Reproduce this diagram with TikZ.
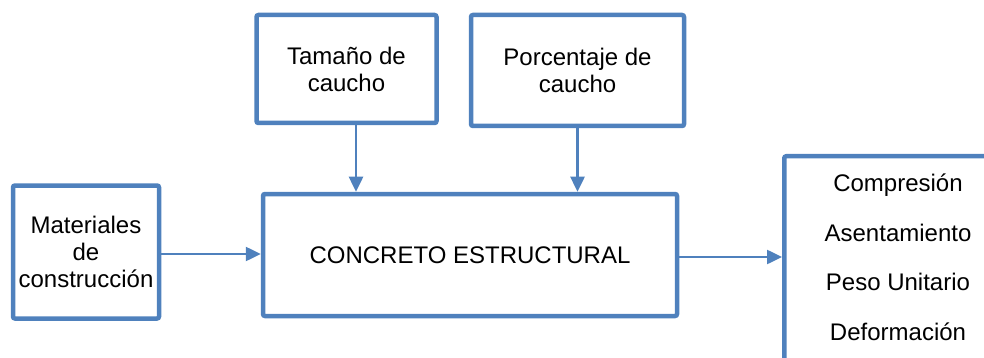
\documentclass[tikz,border=0pt]{standalone}
\usepackage{fontspec}
\setmainfont{Liberation Sans}
\usetikzlibrary{arrows.meta}
\definecolor{boxblue}{RGB}{79,129,189}

\begin{document}
\begin{tikzpicture}
        [x=1pt,y=-1pt,every node/.style={draw=boxblue,line width=4.5pt,rounded corners=2pt,inner sep=0pt,align=center,font=\fontsize{24}{27}\selectfont},
         arr/.style={-{Triangle[length=15pt,width=14pt]},draw=boxblue,line width=2.5pt}]
        \useasboundingbox (0,0) rectangle (984,358);
        \node (tam) at (346.5,69) [minimum width=180pt,minimum height=108pt] {Tamaño de\\caucho};
        \node (por) at (577.5,70.5) [minimum width=213pt,minimum height=111pt] {Porcentaje de\\caucho};
        \node (mat) at (86,252) [minimum width=146pt,minimum height=133pt] {Materiales\\de\\construcción};
        \node (con) at (470,255) [minimum width=414pt,minimum height=122pt] {CONCRETO ESTRUCTURAL};
        \node (res) at (782,154) [anchor=north west,minimum width=240pt,minimum height=240pt] {};
        \node (lst) at (898,257.5) [draw=none,font=\fontsize{24}{49.5}\selectfont] {Compresión\\Asentamiento\\Peso Unitario\\Deformación};
        
        \draw [arr] ([xshift=9.5pt]tam.south) -- ([xshift=9.5pt]tam.south |- con.north);
        \draw [arr] (por.south) -- (por.south |- con.north);
        \draw [arr] ([yshift=-2pt]mat.east) -- ([yshift=-2pt]mat.east -| con.west);
        \draw [arr] ([yshift=-2pt]con.east) -- ([yshift=-2pt]con.east -| res.west);
    
    \end{tikzpicture}
\end{document}
